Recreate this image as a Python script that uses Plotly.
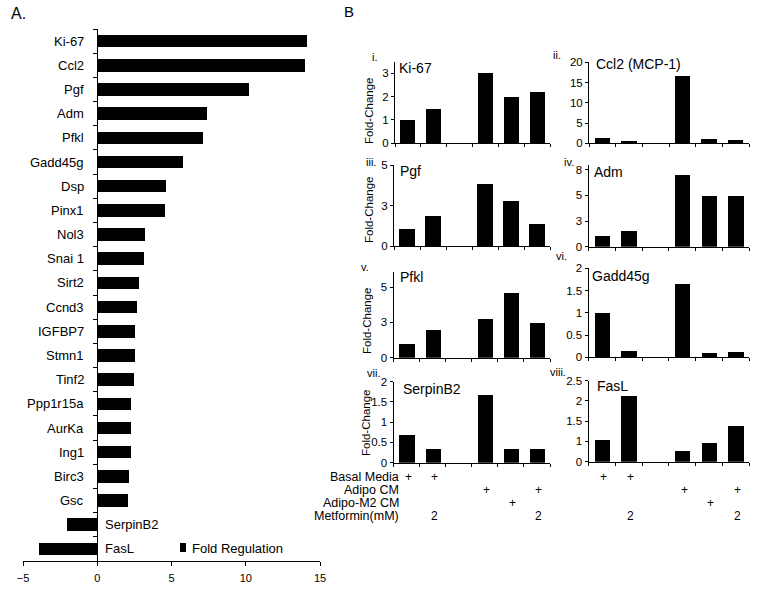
import plotly.graph_objects as go

# ---------------- Data: panel A ----------------
genes_a = ["Ki-67", "Ccl2", "Pgf", "Adm", "Pfkl", "Gadd45g", "Dsp", "Pinx1", "Nol3",
           "Snai 1", "Sirt2", "Ccnd3", "IGFBP7", "Stmn1", "Tinf2", "Ppp1r15a", "AurKa",
           "Ing1", "Birc3", "Gsc", "SerpinB2", "FasL"]
fold_regulation = [14.15, 14.0, 10.2, 7.4, 7.13, 5.78, 4.64, 4.57, 3.21,
                   3.16, 2.78, 2.67, 2.56, 2.51, 2.47, 2.29, 2.29,
                   2.24, 2.13, 2.08, -2.04, -3.95]
xticks_a = [-5, 0, 5, 10, 15]

# ---------------- Data: panel B ----------------
groups = [0, 1, 2, 3, 4, 5]
genes_b = ["Ki-67", "Ccl2 (MCP-1)", "Pgf", "Adm", "Pfkl", "Gadd45g", "SerpinB2", "FasL"]
roman_b = ["i.", "ii.", "iii.", "iv.", "v.", "vi.", "vii.", "viii."]
fc_ki67 = [1.0, 1.5, None, 3.03, 2.0, 2.22]
fc_ccl2 = [1.23, 0.3, None, 16.6, 0.95, 0.8]
fc_pgf = [1.03, 1.85, None, 3.85, 2.78, 1.34]
fc_adm = [1.11, 1.55, None, 7.04, 4.96, 4.96]
fc_pfkl = [1.02, 2.0, None, 2.79, 4.6, 2.48]
fc_gadd45g = [1.0, 0.14, None, 1.63, 0.1, 0.11]
fc_serpinb2 = [0.68, 0.34, None, 1.69, 0.34, 0.34]
fc_fasl = [1.04, 2.13, None, 0.77, 0.97, 1.39]
fc_values = [fc_ki67, fc_ccl2, fc_pgf, fc_adm, fc_pfkl, fc_gadd45g, fc_serpinb2, fc_fasl]

yticks_b = [[0, 1, 2, 3], [0, 5, 10, 15, 20], [0, 2.5, 5], [0, 2.5, 5, 7.5],
            [0, 2.5, 5], [0, 0.5, 1, 1.5, 2], [0, 0.5, 1, 1.5, 2], [0.5, 1, 1.5, 2, 2.5]]
yticktext_b = [["0", "1", "2", "3"], ["0", "5", "10", "15", "20"], ["0", "3", "5"],
               ["0", "3", "5", "8"], ["0", "3", "5"], ["0", "0.5", "1", "1.5", "2"],
               ["0", "0.5", "1", "1.5", "2"], ["0", "1", "1.5", "2", "2.5"]]
yranges_b = [[0, 3.5], [0, 20], [0, 5], [0, 8], [0, 6.1], [0, 2], [0, 2], [0.5, 2.5]]

condition_names = ["Basal Media", "Adipo CM", "Adipo-M2 CM", "Metformin(mM)"]
basal_media = ["+", "+", "", "", "", ""]
adipo_cm = ["", "", "", "+", "", "+"]
adipo_m2_cm = ["", "", "", "", "+", ""]
metformin_mm = ["", "2", "", "", "", "2"]
condition_marks = [basal_media, adipo_cm, adipo_m2_cm, metformin_mm]

# ---------------- Layout helpers ----------------
W, H = 760, 599
FONT = "Liberation Sans, Arial, sans-serif"


def fx(px):
    return px / W


def fy(py):
    return 1 - py / H


fig = go.Figure()

# ---------------- Panel A ----------------
fig.add_trace(go.Bar(x=fold_regulation, y=genes_a, orientation="h",
                     marker=dict(color="black", line=dict(width=0)),
                     width=0.52, showlegend=False, xaxis="x", yaxis="y"))

fig.update_layout(
    xaxis=dict(domain=[fx(23), fx(320)], range=[-5, 15], tickvals=xticks_a,
               showline=True, linecolor="black", linewidth=1, ticks="outside",
               ticklen=4, tickcolor="black", showgrid=False, zeroline=False,
               tickfont=dict(size=11, color="black", family=FONT), anchor="y",
               ticklabelstandoff=3, automargin=False),
    yaxis=dict(domain=[fy(561), fy(29)], type="category", categoryorder="array",
               categoryarray=genes_a, autorange="reversed", anchor="free",
               position=fx(97), showline=True, linecolor="black", linewidth=1,
               ticks="outside", tickson="boundaries", ticklen=4, tickcolor="black",
               showticklabels=False, showgrid=False, zeroline=False, automargin=False),
)

annotations = []
for g, v in zip(genes_a, fold_regulation):
    annotations.append(dict(x=0, y=g, xref="x", yref="y", text=g, showarrow=False,
                            xanchor="right" if v > 0 else "left",
                            xshift=-11 if v > 0 else 6,
                            font=dict(size=13, color="black", family=FONT)))

# legend (drawn)
shapes = [dict(type="rect", xref="paper", yref="paper", x0=fx(180), x1=fx(186),
               y0=fy(552), y1=fy(543), fillcolor="black", line=dict(width=0))]
annotations.append(dict(x=fx(190), y=fy(548), xref="paper", yref="paper",
                        text="Fold Regulation", showarrow=False, xanchor="left",
                        yanchor="middle", font=dict(size=13, color="black", family=FONT)))

annotations.append(dict(x=fx(9), y=fy(13), xref="paper", yref="paper", text="A.",
                        showarrow=False, xanchor="left", yanchor="middle",
                        font=dict(size=16, color="black", family=FONT)))
annotations.append(dict(x=fx(342), y=fy(11), xref="paper", yref="paper", text="B",
                        showarrow=False, xanchor="left", yanchor="middle",
                        font=dict(size=15, color="black", family=FONT)))

# ---------------- Panel B ----------------
# pixel boxes: (x_left, x_right, y_top, y_bottom)
boxes = [(395, 550, 61.7, 143.3), (589, 749, 62.3, 143.3),
         (394, 550, 165, 246.2), (588.5, 749, 164.5, 246.7),
         (393.5, 550, 271.7, 357.7), (588.5, 749, 268.3, 357.3),
         (393.5, 550, 381.7, 462.7), (588.5, 749, 380.7, 461.7)]
title_pos = [(397, 68), (594, 64), (398, 171), (592, 172),
             (398, 277), (590, 276), (401, 389), (595, 386)]
roman_pos = [(375, 57), (557, 55), (371, 162), (569, 162),
             (365, 267), (561, 256), (373, 373), (558, 372)]
foldchange_pos = [(369, 111), (369, 210), (367, 321), (366, 423)]

for i in range(8):
    n = i + 2
    xa, ya = f"x{n}", f"y{n}"
    fig.add_trace(go.Bar(x=groups, y=fc_values[i], marker=dict(color="black", line=dict(width=0)),
                         width=0.58, showlegend=False, xaxis=xa, yaxis=ya))
    x0, x1, yt, yb = boxes[i]
    fig.layout[f"xaxis{n}"] = dict(domain=[fx(x0), fx(x1)], range=[-0.5, 5.5], anchor=ya,
                                   tickvals=[k + 0.5 for k in range(-1, 6)],
                                   showticklabels=False, ticks="outside", ticklen=3,
                                   tickcolor="black", showline=True, linecolor="black",
                                   linewidth=1, showgrid=False, zeroline=False,
                                   automargin=False)
    fig.layout[f"yaxis{n}"] = dict(domain=[fy(yb), fy(yt)], range=yranges_b[i], anchor=xa,
                                   tickvals=yticks_b[i], ticktext=yticktext_b[i],
                                   ticks="outside", ticklen=3, tickcolor="black",
                                   showline=True, linecolor="black", linewidth=1,
                                   showgrid=False, zeroline=False, automargin=False,
                                   tickfont=dict(size=11.5, color="black", family=FONT))
    tx, ty = title_pos[i]
    annotations.append(dict(x=fx(tx), y=fy(ty), xref="paper", yref="paper", text=genes_b[i],
                            showarrow=False, xanchor="left", yanchor="middle",
                            font=dict(size=14, color="black", family=FONT)))
    rx, ry = roman_pos[i]
    annotations.append(dict(x=fx(rx), y=fy(ry), xref="paper", yref="paper", text=roman_b[i],
                            showarrow=False, xanchor="center", yanchor="middle",
                            font=dict(size=11, color="black", family=FONT)))

for xc, yc in foldchange_pos:
    annotations.append(dict(x=fx(xc), y=fy(yc), xref="paper", yref="paper", text="Fold-Change",
                            showarrow=False, textangle=-90, xanchor="center", yanchor="middle",
                            font=dict(size=11.5, color="black", family=FONT)))

# condition table
row_y = [477, 490, 503, 516]
for name, marks, yy in zip(condition_names, condition_marks, row_y):
    annotations.append(dict(x=fx(401), y=fy(yy), xref="paper", yref="paper", text=name,
                            showarrow=False, xanchor="right", yanchor="middle",
                            font=dict(size=12.5, color="black", family=FONT)))
    for axis_name in ["x8", "x9"]:
        for g, m in zip(groups, marks):
            if m:
                annotations.append(dict(x=g, y=fy(yy), xref=axis_name, yref="paper", text=m,
                                        showarrow=False, xanchor="center", yanchor="middle",
                                        xshift=2,
                                        font=dict(size=12, color="black", family=FONT)))

fig.update_layout(template="none", width=W, height=H, margin=dict(l=0, r=0, t=0, b=0),
                  paper_bgcolor="white", plot_bgcolor="white",
                  annotations=annotations, shapes=shapes, bargap=0,
                  font=dict(family=FONT, color="black"))

# remove the default page margin so the figure starts at the window's top-left corner
fig.write_html("out.html", config={"displayModeBar": False},
               post_script="document.body.style.margin='0';")
